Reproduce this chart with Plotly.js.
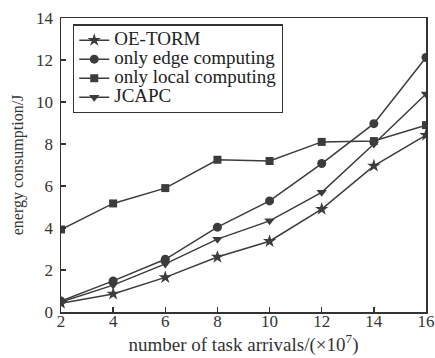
<!DOCTYPE html>
<html>
<head>
<meta charset="utf-8">
<script src="https://cdn.plot.ly/plotly-3.0.1.min.js"></script>
<style>html,body{margin:0;padding:0;background:#fff;}#chart{width:435px;height:358px;}</style>
</head>
<body>
<div id="chart"></div>
<script>
const taskArrivals = [2, 4, 6, 8, 10, 12, 14, 16];
const oeTorm = [0.42, 0.86, 1.65, 2.62, 3.37, 4.9, 6.96, 8.42];
const onlyEdge = [0.52, 1.48, 2.51, 4.04, 5.29, 7.07, 8.97, 12.12];
const onlyLocal = [3.93, 5.17, 5.9, 7.25, 7.19, 8.1, 8.14, 8.9];
const jcapc = [0.47, 1.28, 2.29, 3.47, 4.34, 5.7, 8.0, 10.38];
const seriesNames = ["OE-TORM", "only edge computing", "only local computing", "JCAPC"];
const yTicks = [0, 2, 4, 6, 8, 10, 12, 14];

const col = "#3c3c3c";
const symbols = ["star", "circle", "square", "triangle-down"];
const sizes = [10, 9, 8, 9];
const data = [oeTorm, onlyEdge, onlyLocal, jcapc].map((ys, i) => ({
  x: taskArrivals, y: ys,
  name: '<span style="font-size:19px">' + seriesNames[i] + '</span>',
  type: "scatter", mode: "lines+markers",
  line: {color: col, width: 1.5},
  marker: {symbol: symbols[i], size: sizes[i], color: col}
}));

const fam = "Liberation Serif, Times New Roman, serif";
const layout = {
  width: 435, height: 358,
  margin: {l: 61, r: 9, t: 18, b: 46},
  paper_bgcolor: "#fff", plot_bgcolor: "#fff",
  font: {family: fam, color: "#333", size: 16},
  showlegend: true,
  legend: {x: 0.033, y: 0.978, xanchor: "left", yanchor: "top", bordercolor: "#333", borderwidth: 1.2,
    bgcolor: "#fff", font: {family: fam, size: 12, color: "#222"}, tracegroupgap: 0, itemwidth: 30},
  xaxis: {
    range: [2, 16], tickvals: taskArrivals, ticks: "inside", ticklen: 5, tickwidth: 1.5, tickcolor: "#333",
    showline: true, linecolor: "#333", linewidth: 1.5, mirror: true, showgrid: false, zeroline: false,
    tickfont: {size: 17, color: "#333", family: fam}, ticklabelstandoff: -7,
    title: {text: "number of task arrivals/(×10<sup>7</sup>)", font: {size: 19, color: "#333", family: fam}, standoff: 0}
  },
  yaxis: {
    range: [0, 14], tickvals: yTicks, ticks: "inside", ticklen: 5, tickwidth: 1.5, tickcolor: "#333",
    showline: true, linecolor: "#333", linewidth: 1.5, mirror: true, showgrid: false, zeroline: false,
    tickfont: {size: 17, color: "#333", family: fam}, ticklabelstandoff: 3,
    title: {text: "energy consumption/J", font: {size: 16, color: "#333", family: fam}, standoff: 8}
  }
};
Plotly.newPlot("chart", data, layout, {displayModeBar: false, staticPlot: true});
</script>
</body>
</html>
